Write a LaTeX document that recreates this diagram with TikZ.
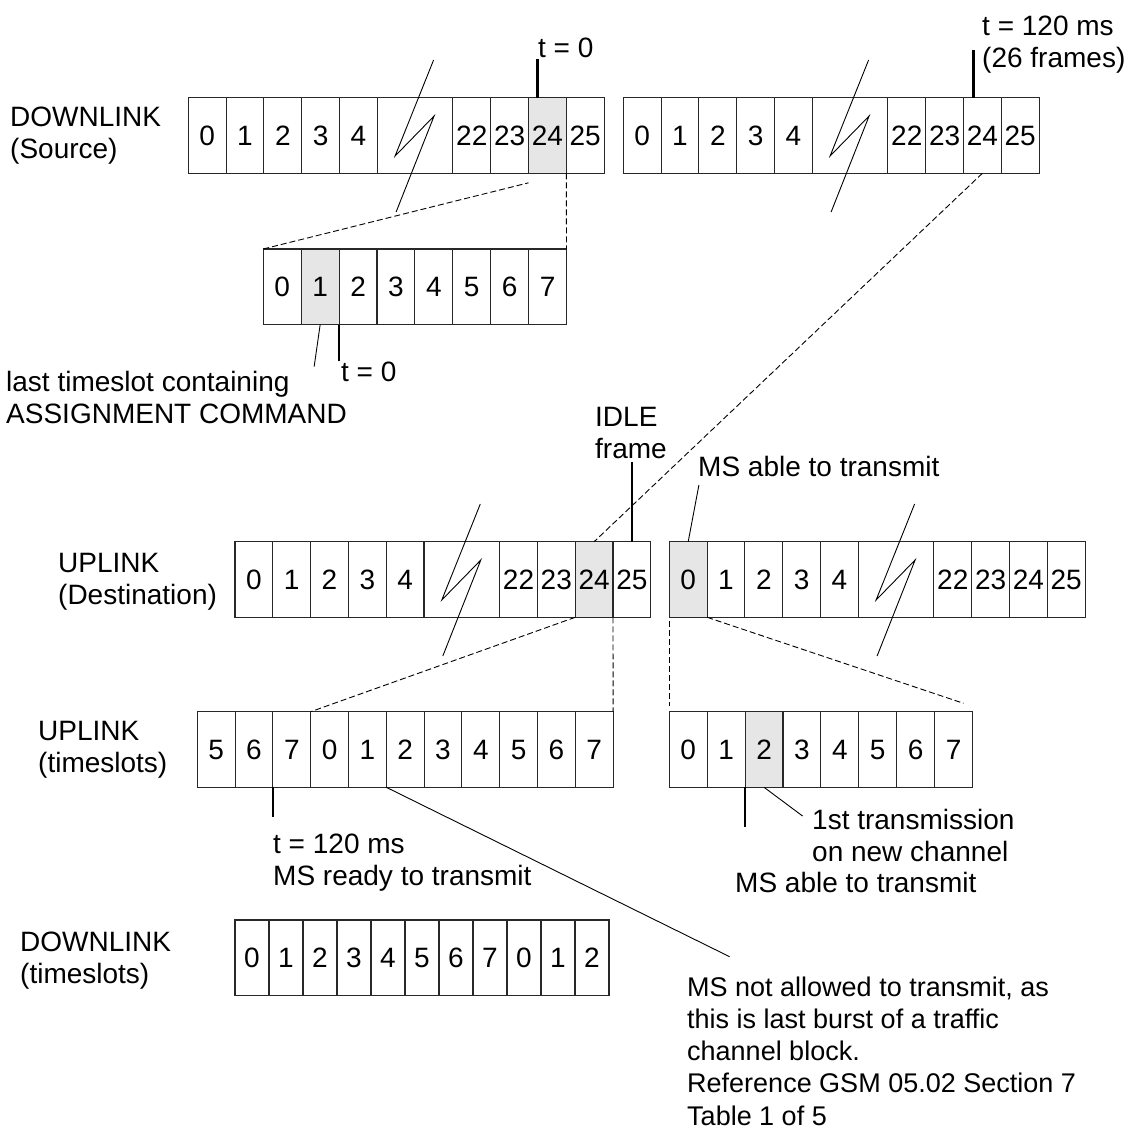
\documentclass[tikz,border=0pt]{standalone}
\usepackage{fontspec}
\setmainfont{Liberation Sans}
\usetikzlibrary{calc}
\definecolor{shade}{RGB}{230,230,230}
\definecolor{edge}{RGB}{40,40,40}
% #1 name, #2 x, #3 y, #4 shaded label
\newcommand\framerow[4]{%
  \foreach \lab [count=\i from 0] in {0,1,2,3,4}{%
    \ifnum\lab=#4 \def\fc{shade}\else\def\fc{none}\fi
    \node[cell,fill=\fc] (#1\lab) at ({#2+\i*37.8},#3) {\lab};}
  \node[cell,minimum width=75.6pt] (#1brk) at ({#2+5*37.8},#3) {};
  \foreach \lab [count=\i from 7] in {22,23,24,25}{%
    \ifnum\lab=#4 \def\fc{shade}\else\def\fc{none}\fi
    \node[cell,fill=\fc] (#1\lab) at ({#2+\i*37.8},#3) {\lab};}
  \draw[thinln] ($(#1brk.north)+(18.5,-37.7)$) -- ++(-38.5,96) -- ++(39,-40) -- ++(-38,96);
}
% #1 name, #2 x, #3 y, #4 width, #5 shaded index, #6 labels
\newcommand\slotrow[6]{%
  \foreach \lab [count=\i from 0] in {#6}{%
    \ifnum\i=#5 \def\fc{shade}\else\def\fc{none}\fi
    \node[cell,minimum width=#4pt,fill=\fc] (#1\i) at ({#2+\i*#4},#3) {\lab};}
}
\begin{document}
\begin{tikzpicture}[x=1pt,y=-1pt,
  every node/.style={font=\fontsize{28}{32}\selectfont},
  cell/.style={draw=edge, line width=1.1pt, anchor=north west, minimum width=37.8pt,
    minimum height=75.6pt, inner sep=0pt, outer sep=0pt},
  lbl/.style={align=left, anchor=west, inner sep=0pt},
  tick/.style={line width=2.2pt},
  thinln/.style={line width=0.9pt},
  dsh/.style={line width=0.9pt, dash pattern=on 6pt off 3pt}]
\useasboundingbox[fill=white] (0,0) rectangle (1131,1131);

% frame rows
\framerow{A}{188.3}{97.7}{24}
\framerow{B}{623.3}{97.7}{-1}
\framerow{D}{235}{541.7}{24}
\framerow{E}{669.3}{541.7}{0}

% timeslot rows
\slotrow{C}{263.3}{249}{37.9}{1}{0,1,2,3,4,5,6,7}
\slotrow{F}{197.3}{711.7}{37.8}{-1}{5,6,7,0,1,2,3,4,5,6,7}
\slotrow{G}{669.3}{711.7}{37.9}{2}{0,1,2,3,4,5,6,7}
\slotrow{H}{235}{920}{34}{-1}{0,1,2,3,4,5,6,7,0,1,2}

% labels
\node[lbl] (dlsrc) at (10,136) {DOWNLINK\\(Source)};
\node[lbl] (t0a) at (538,48) {t = 0};
\node[lbl] (t120a) at (982,45) {t = 120 ms\\(26 frames)};
\node[lbl] (last) at (6,397) {last timeslot containing\\ASSIGNMENT COMMAND};
\node[lbl] (t0b) at (341,372) {t = 0};
\node[lbl] (idle) at (595,433) {IDLE\\frame};
\node[lbl] (able1) at (698,466) {MS able to transmit};
\node[lbl] (uldst) at (58,582) {UPLINK\\(Destination)};
\node[lbl] (ults) at (38,750) {UPLINK\\(timeslots)};
\node[lbl] (t120b) at (273,863) {t = 120 ms\\MS ready to transmit};
\node[lbl] (first) at (812,835) {1st transmission\\on new channel};
\node[lbl] (able2) at (735,882) {MS able to transmit};
\node[lbl] (dlts) at (20,961) {DOWNLINK\\(timeslots)};
\node[lbl, font=\fontsize{27}{32.3}\selectfont] (note) at (687,1051)
  {MS not allowed to transmit, as\\this is last burst of a traffic\\channel block.\\Reference GSM 05.02 Section 7\\Table 1 of 5};

% ticks
\draw[tick] ($(A24.north west)+(9,0)$) -- ++(0,-38.5);
\draw[tick] ($(B24.north west)+(10,0)$) -- ++(0,-47.7);
\draw[tick] (C2.south west) -- ++(0,36);
\draw[tick] (D25.north) -- ++(0,-80);
\draw[tick] (F2.south west) -- ++(0,29.4);
\draw[tick] (G2.south west) -- ++(0,39.4);

% thin pointer lines
\draw[thinln] (C1.south) -- ++(-6,42);
\draw[thinln] (E0.north) -- ++(10.7,-56.7);
\draw[thinln] (F5.south west) -- ++(343.3,169.4);
\draw[thinln] (G2.south) -- ++(38.5,28.7);

% dashed zoom lines
\draw[dsh] (A24.south east) -- (C7.north east);
\draw[dsh] (C0.north west) -- ($(A24.south west)+(0,9.5)$);
\draw[dsh] (B24.south) -- (D24.north);
\draw[dsh] (D24.south west) -- (F3.north west);
\draw[dsh] (D24.south east) -- (F10.north east);
\draw[dsh] ($(E0.south west)+(0,4)$) -- ($(G0.north west)+(0,-6)$);
\draw[dsh] (E0.south east) -- ($(G7.north east)+(-9,-8.4)$);
\end{tikzpicture}
\end{document}
